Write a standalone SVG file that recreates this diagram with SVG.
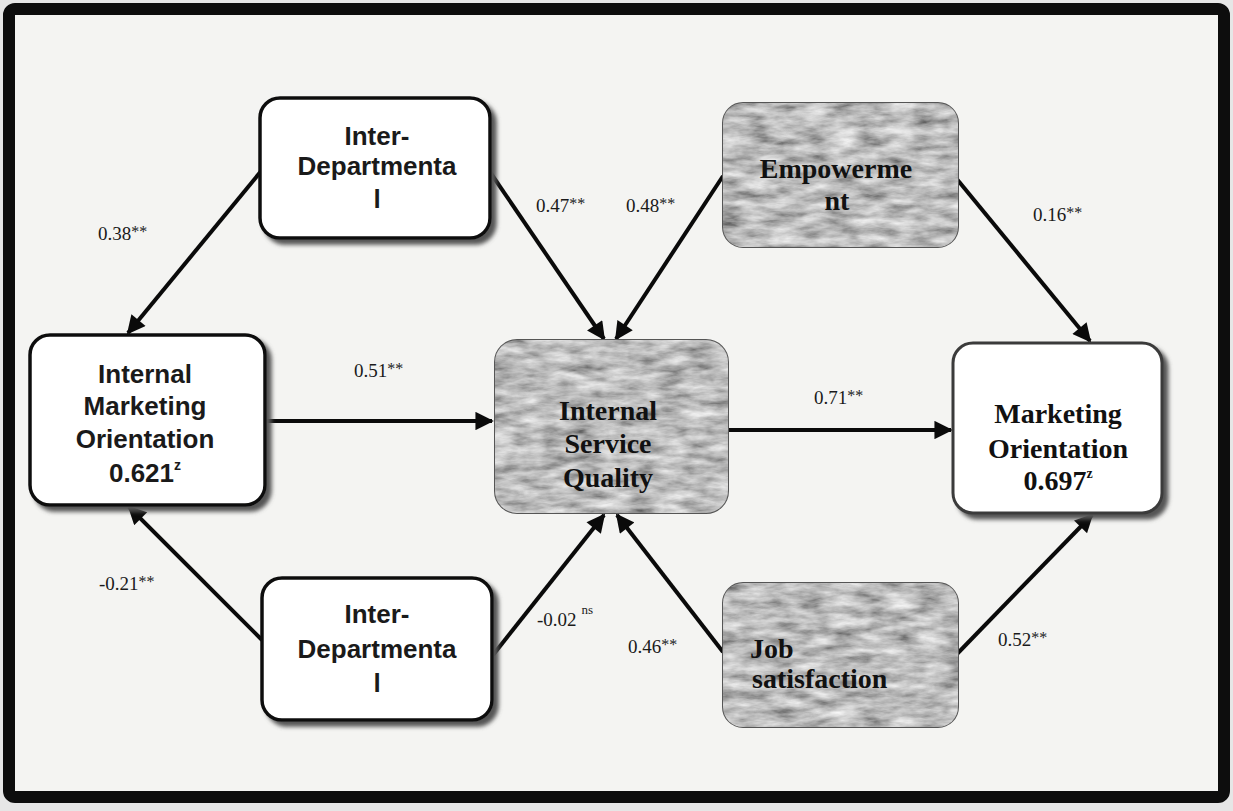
<svg xmlns="http://www.w3.org/2000/svg" width="1233" height="811" viewBox="0 0 1233 811">
<defs>
<style>
.frame{fill:#f4f4f2;stroke:#0d0d0d;stroke-width:12}
.wbox{fill:#ffffff;stroke:#111;stroke-width:3.5;filter:url(#shadow)}
.gbase{fill:#808080;stroke:#555;stroke-width:2}
.gtex{fill:#000;filter:url(#tex)}
.sans{font-family:"Liberation Sans",Arial,sans-serif;font-weight:bold;font-size:26px;fill:#1a1a1a;text-anchor:middle}
.serif{font-family:"Liberation Serif","Times New Roman",serif;font-weight:bold;font-size:28px;fill:#111;text-anchor:middle}
.lbl{font-family:"Liberation Serif","Times New Roman",serif;font-size:19px;fill:#1a1a1a}
.sup{font-size:16px}
.edge{stroke:#0a0a0a;stroke-width:4;fill:none;marker-end:url(#arrow)}
</style>
<marker id="arrow" viewBox="0 0 10 10" refX="9" refY="5" markerWidth="5" markerHeight="4.6" orient="auto" markerUnits="strokeWidth">
<path d="M0,0 L10,5 L0,10 Z" fill="#0a0a0a"/>
</marker>
<filter id="shadow" x="-10%" y="-10%" width="125%" height="130%">
<feGaussianBlur in="SourceAlpha" stdDeviation="2"/>
<feOffset dx="5" dy="5" result="b"/>
<feFlood flood-color="#555"/>
<feComposite in2="b" operator="in" result="s"/>
<feMerge><feMergeNode in="s"/><feMergeNode in="SourceGraphic"/></feMerge>
</filter>
<filter id="tex" x="0" y="0" width="1" height="1">
<feTurbulence type="fractalNoise" baseFrequency="0.035 0.11" numOctaves="4" seed="11" result="noise"/>
<feColorMatrix in="noise" type="matrix" values="0.95 0 0 0 0.03  0.95 0 0 0 0.03  0.95 0 0 0 0.03  0 0 0 0 1" result="grey"/>
<feComposite in="grey" in2="SourceGraphic" operator="in"/>
</filter>
</defs>

<rect x="0" y="0" width="1233" height="811" fill="#e6e6e6"/>
<rect class="frame" x="9" y="9" width="1215" height="788" rx="6"/>

<g id="connectors">
<line class="edge" x1="262" y1="170" x2="128" y2="333"/>
<line class="edge" x1="262" y1="640" x2="129" y2="507"/>
<line class="edge" x1="265" y1="421" x2="492" y2="421"/>
<line class="edge" x1="490" y1="172" x2="604" y2="339"/>
<line class="edge" x1="723" y1="176" x2="616" y2="339"/>
<line class="edge" x1="728" y1="430" x2="951" y2="430"/>
<line class="edge" x1="956" y1="178" x2="1090" y2="341"/>
<line class="edge" x1="493" y1="655" x2="604" y2="515"/>
<line class="edge" x1="723" y1="652" x2="617" y2="515"/>
<line class="edge" x1="956" y1="655" x2="1092" y2="515"/>
</g>

<g id="edge-labels">
<text class="lbl" x="98" y="240">0.38<tspan class="sup" dy="-3">**</tspan></text>
<text class="lbl" x="99" y="590">-0.21<tspan class="sup" dy="-3">**</tspan></text>
<text class="lbl" x="354" y="377">0.51<tspan class="sup" dy="-3">**</tspan></text>
<text class="lbl" x="536" y="212">0.47<tspan class="sup" dy="-3">**</tspan></text>
<text class="lbl" x="626" y="212">0.48<tspan class="sup" dy="-3">**</tspan></text>
<text class="lbl" x="1033" y="221">0.16<tspan class="sup" dy="-3">**</tspan></text>
<text class="lbl" x="814" y="404">0.71<tspan class="sup" dy="-3">**</tspan></text>
<text class="lbl" x="537" y="626">-0.02<tspan font-size="13" dx="5" dy="-12">ns</tspan></text>
<text class="lbl" x="628" y="653">0.46<tspan class="sup" dy="-3">**</tspan></text>
<text class="lbl" x="998" y="646">0.52<tspan class="sup" dy="-3">**</tspan></text>
</g>

<g id="node-interdept-top">
<rect class="wbox" x="260" y="98" width="230" height="140" rx="20"/>
<text class="sans" x="377" y="145">Inter-</text>
<text class="sans" x="377" y="175">Departmenta</text>
<text class="sans" x="377" y="208">l</text>
</g>

<g id="node-empowerment">
<rect class="gbase" x="723" y="103" width="235" height="144" rx="20"/>
<rect class="gtex" x="723" y="103" width="235" height="144" rx="20"/>
<text class="serif" x="836" y="178">Empowerme</text>
<text class="serif" x="837" y="210">nt</text>
</g>

<g id="node-imo">
<rect class="wbox" x="30" y="335" width="235" height="170" rx="20"/>
<text class="sans" x="145" y="383">Internal</text>
<text class="sans" x="145" y="415">Marketing</text>
<text class="sans" x="145" y="448">Orientation</text>
<text class="sans" x="145" y="482">0.621<tspan font-size="14" dy="-12">z</tspan></text>
</g>

<g id="node-isq">
<rect class="gbase" x="495" y="340" width="233" height="173" rx="22"/>
<rect class="gtex" x="495" y="340" width="233" height="173" rx="22"/>
<text class="serif" x="608" y="420">Internal</text>
<text class="serif" x="608" y="453">Service</text>
<text class="serif" x="608" y="487">Quality</text>
</g>

<g id="node-mo">
<rect class="wbox" x="953" y="343" width="209" height="170" rx="20" style="stroke:#3a3a3a;stroke-width:3"/>
<text class="serif" x="1058" y="423">Marketing</text>
<text class="serif" x="1058" y="458">Orientation</text>
<text class="serif" x="1058" y="490">0.697<tspan font-size="14" dy="-12">z</tspan></text>
</g>

<g id="node-interdept-bottom">
<rect class="wbox" x="262" y="578" width="230" height="142" rx="20"/>
<text class="sans" x="377" y="623">Inter-</text>
<text class="sans" x="377" y="658">Departmenta</text>
<text class="sans" x="377" y="692">l</text>
</g>

<g id="node-job">
<rect class="gbase" x="723" y="583" width="235" height="144" rx="20"/>
<rect class="gtex" x="723" y="583" width="235" height="144" rx="20"/>
<text class="serif" x="750" y="658" style="text-anchor:start">Job</text>
<text class="serif" x="752" y="688" style="text-anchor:start">satisfaction</text>
</g>
</svg>
